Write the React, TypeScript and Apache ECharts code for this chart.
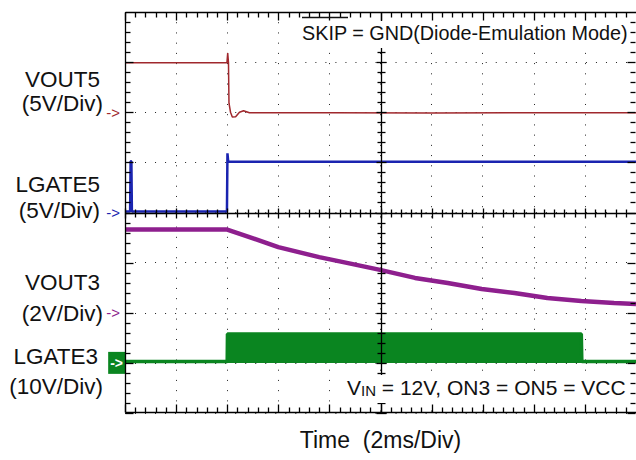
import React, { useEffect, useRef } from "react";
import * as echarts from "echarts";

// ---- scope settings ----
const MS_PER_DIV = 2;
const X_HALF_DIVS = 5;
const Y_HALF_DIVS = 4;
const MINOR_PER_DIV = 5;
// start of each screen division (graticule)
const X_DIV_STARTS = [-5, -4, -3, -2, -1, 0, 1, 2, 3, 4];
const Y_DIV_STARTS = [-4, -3, -2, -1, 0, 1, 2, 3];

// ---- channels ----
const CHANNEL_NAMES = ["VOUT5", "LGATE5", "VOUT3", "LGATE3"];
const CHANNEL_SCALES = ["(5V/Div)", "(5V/Div)", "(2V/Div)", "(10V/Div)"];
const CHANNEL_GROUND_DIV = [2, 0, -2, -3];
const CHANNEL_VOLTS_PER_DIV = [5, 5, 2, 10];

// ---- traces: time (ms from left of screen) and volts ----
const VOUT5_T = [0, 3.99, 4.02, 4.05, 4.07, 4.13, 4.2, 4.33, 4.48, 4.64, 4.87, 8, 12, 16, 20];
const VOUT5_V = [4.95, 4.95, 5.9, 4.95, 0.9, 0.0, -0.47, -0.45, 0.0, 0.15, -0.05, -0.05, -0.07, -0.05, -0.05];

const LGATE5_T = [0, 0.2, 0.22, 0.25, 0.27, 3.99, 4.01, 4.04, 8, 12, 16, 20];
const LGATE5_V = [0.1, 0.1, 5.1, 5.1, 0.1, 0.1, 5.9, 5.05, 5.05, 5.05, 5.05, 5.05];

const VOUT3_T = [0, 4.0, 4.87, 6.0, 7.6, 8.73, 9.98, 11.35, 12.63, 13.96, 15.24, 16.53, 17.86, 19.14, 20];
const VOUT3_V = [3.32, 3.32, 3.02, 2.62, 2.22, 1.98, 1.71, 1.39, 1.19, 0.95, 0.79, 0.59, 0.47, 0.39, 0.35];

const LGATE3_T = [0, 4.0, 4.01, 17.86, 17.88, 20];
const LGATE3_V = [0.25, 0.25, 5.75, 5.75, 0.25, 0.25];

const COLORS = ["#a0282d", "#1a24b0", "#8e1f8e", "#0a8520"];
const FONT = '"Liberation Sans", Arial, Helvetica, sans-serif';
const INK = "#000";

// screen geometry (pixels)
const G_LEFT = 125;
const G_TOP = 12;
const G_W = 511;
const G_H = 401;

function toPoints(t: number[], v: number[], ch: number) {
  return t.map((tt, i) => [
    tt / MS_PER_DIV - X_HALF_DIVS,
    CHANNEL_GROUND_DIV[ch] + v[i] / CHANNEL_VOLTS_PER_DIV[ch],
  ]);
}

const seg = (x1: number, y1: number, x2: number, y2: number) => ({
  type: "line",
  shape: { x1, y1, x2, y2 },
  style: { stroke: INK, lineWidth: 1.3 },
  z2: 50,
});

export default function App() {
  const ref = useRef<HTMLDivElement>(null);
  useEffect(() => {
    if (!ref.current) return;
    const chart = echarts.init(ref.current, undefined, { renderer: "svg" });

    const markKeys = ["a", "b", "c", "d"];
    const richMarks: any = {};
    markKeys.forEach((k, i) => {
      richMarks[k] =
        i === 3
          ? {
              color: "#fff",
              backgroundColor: COLORS[i],
              fontSize: 14,
              fontFamily: FONT,
              fontWeight: "bold",
              padding: [4, 2, 4, 2],
            }
          : {
              color: COLORS[i],
              fontSize: 15,
              fontFamily: FONT,
              padding: [0, 5, 0, 0],
            };
    });

    const labelSpecs = [
      { text: CHANNEL_NAMES[0], x: 100, y: 79 },
      { text: CHANNEL_SCALES[0], x: 103, y: 103 },
      { text: CHANNEL_NAMES[1], x: 100, y: 184 },
      { text: CHANNEL_SCALES[1], x: 100, y: 210 },
      { text: CHANNEL_NAMES[2], x: 100, y: 282 },
      { text: CHANNEL_SCALES[2], x: 103, y: 313 },
      { text: CHANNEL_NAMES[3], x: 98, y: 356 },
      { text: CHANNEL_SCALES[3], x: 103, y: 386 },
    ];

    const traces = [
      { t: VOUT5_T, v: VOUT5_V, w: 1.5 },
      { t: LGATE5_T, v: LGATE5_V, w: 2.5 },
      { t: VOUT3_T, v: VOUT3_V, w: 4.5 },
      { t: LGATE3_T, v: LGATE3_V, w: 3.5 },
    ];

    // graticule: frame, centre cross and their ticks, drawn through the axes' scales
    const graticule = {
      type: "custom",
      name: "graticule",
      coordinateSystem: "cartesian2d",
      xAxisIndex: 0,
      yAxisIndex: 0,
      clip: false,
      silent: true,
      z: 20,
      data: [[0, 0]],
      renderItem: (_p: any, api: any) => {
        const left = Math.round(api.coord([-X_HALF_DIVS, 0])[0]) + 0.5;
        const right = Math.round(api.coord([X_HALF_DIVS, 0])[0]) - 0.5;
        const top = Math.round(api.coord([0, Y_HALF_DIVS])[1]) + 0.5;
        const bottom = Math.round(api.coord([0, -Y_HALF_DIVS])[1]) - 0.5;
        const cx = Math.round(api.coord([0, 0])[0]) + 0.5;
        const cy = Math.round(api.coord([0, 0])[1]) + 0.5;
        const children: any[] = [
          seg(left, top, right + 1, top),
          seg(left, bottom, right + 1, bottom),
          seg(left, top, left, bottom),
          seg(left, cy, right + 1, cy),
          seg(cx, top, cx, bottom),
        ];
        X_DIV_STARTS.forEach((v) => {
          for (let k = 0; k < MINOR_PER_DIV; k++) {
            const px = Math.round(api.coord([v + k / MINOR_PER_DIV, 0])[0]) + 0.5;
            const fl = k === 0 ? 8 : 5;
            const cl = k === 0 ? 5 : 4;
            children.push(seg(px, top, px, top + fl));
            children.push(seg(px, bottom, px, bottom - fl));
            children.push(seg(px, cy - cl, px, cy + cl));
          }
        });
        Y_DIV_STARTS.forEach((v) => {
          for (let k = 0; k < MINOR_PER_DIV; k++) {
            const py = Math.round(api.coord([0, v + k / MINOR_PER_DIV])[1]) + 0.5;
            const fl = k === 0 ? 8 : 5;
            const cl = k === 0 ? 5 : 4;
            children.push(seg(left, py, left + fl, py));
            children.push(seg(right, py, right - fl, py));
            children.push(seg(cx - cl, py, cx + cl, py));
          }
        });
        return { type: "group", children };
      },
    };

    chart.setOption({
      animation: false,
      grid: { left: G_LEFT, top: G_TOP, width: G_W, height: G_H, outerBoundsMode: "none", containLabel: false },
      xAxis: {
        type: "value",
        min: -X_HALF_DIVS,
        max: X_HALF_DIVS,
        interval: 1,
        position: "bottom",
        axisLine: { show: false, onZero: false },
        axisTick: { show: false },
        minorTick: { show: false },
        axisLabel: { show: false },
        splitLine: { show: true, lineStyle: { color: "#222", width: 1, type: [1, 9.22] } },
      },
      yAxis: {
        type: "value",
        min: -Y_HALF_DIVS,
        max: Y_HALF_DIVS,
        interval: 1,
        position: "left",
        axisLine: { show: false, onZero: false },
        axisTick: { show: false },
        minorTick: { show: false },
        splitLine: { show: true, lineStyle: { color: "#222", width: 1, type: [1, 9.02] } },
        axisLabel: {
          show: true,
          margin: 0,
          formatter: (val: number) => {
            const i = CHANNEL_GROUND_DIV.findIndex((g) => Math.abs(g - val) < 1e-6);
            return i >= 0 ? `{${markKeys[i]}|->}` : "";
          },
          rich: richMarks,
        },
      },
      series: [
        ...traces.map((tr, i) => ({
          type: "line",
          name: CHANNEL_NAMES[i],
          data: toPoints(tr.t, tr.v, i),
          showSymbol: false,
          symbol: "none",
          clip: true,
          lineStyle: { color: COLORS[i], width: tr.w },
          itemStyle: { color: COLORS[i] },
          areaStyle:
            i === 3 ? { color: COLORS[i], opacity: 1, origin: CHANNEL_GROUND_DIV[3] } : undefined,
          z: 3,
        })),
        graticule,
      ],
      graphic: [
        ...labelSpecs.map((l) => ({
          type: "text",
          x: l.x,
          y: l.y,
          z: 10,
          style: {
            text: l.text,
            fill: "#111",
            font: `22.5px ${FONT}`,
            textAlign: "right",
            align: "right",
            textVerticalAlign: "middle",
            verticalAlign: "middle",
          },
        })),
        {
          type: "rect",
          z: 100,
          shape: { x: 298, y: 21, width: 332, height: 27 },
          style: { fill: "#fff" },
        },
        {
          type: "text",
          x: 302,
          y: 33,
          z: 101,
          style: {
            text: "SKIP = GND(Diode-Emulation Mode)",
            fill: "#111",
            font: `19.8px ${FONT}`,
            textAlign: "left",
            align: "left",
            textVerticalAlign: "middle",
            verticalAlign: "middle",
          },
        },
        {
          type: "line",
          z: 101,
          shape: { x1: 302, y1: 17.5, x2: 348, y2: 17.5 },
          style: { stroke: "#111", lineWidth: 1.5 },
        },
        {
          type: "rect",
          z: 100,
          shape: { x: 340, y: 375, width: 290, height: 28 },
          style: { fill: "#fff" },
        },
        {
          type: "text",
          x: 347,
          y: 387,
          z: 101,
          style: {
            text: "{v|V}{s|IN}{n| = 12V, ON3 = ON5 = VCC}",
            fill: "#111",
            textAlign: "left",
            align: "left",
            textVerticalAlign: "middle",
            verticalAlign: "middle",
            rich: {
              v: { fontSize: 21, fontFamily: FONT, fill: "#111", color: "#111" },
              s: { fontSize: 15, fontFamily: FONT, fill: "#111", color: "#111", verticalAlign: "bottom" },
              n: { fontSize: 21, fontFamily: FONT, fill: "#111", color: "#111" },
            },
          },
        },
        {
          type: "text",
          x: 380.5,
          y: 440,
          z: 10,
          style: {
            text: "Time  (2ms/Div)",
            fill: "#111",
            font: `23px ${FONT}`,
            textAlign: "center",
            align: "center",
            textVerticalAlign: "middle",
            verticalAlign: "middle",
          },
        },
      ],
    });
    return () => chart.dispose();
  }, []);
  return (
    <div
      ref={ref}
      style={{ position: "fixed", left: 0, top: 0, width: 636, height: 460, background: "#fff" }}
    />
  );
}
